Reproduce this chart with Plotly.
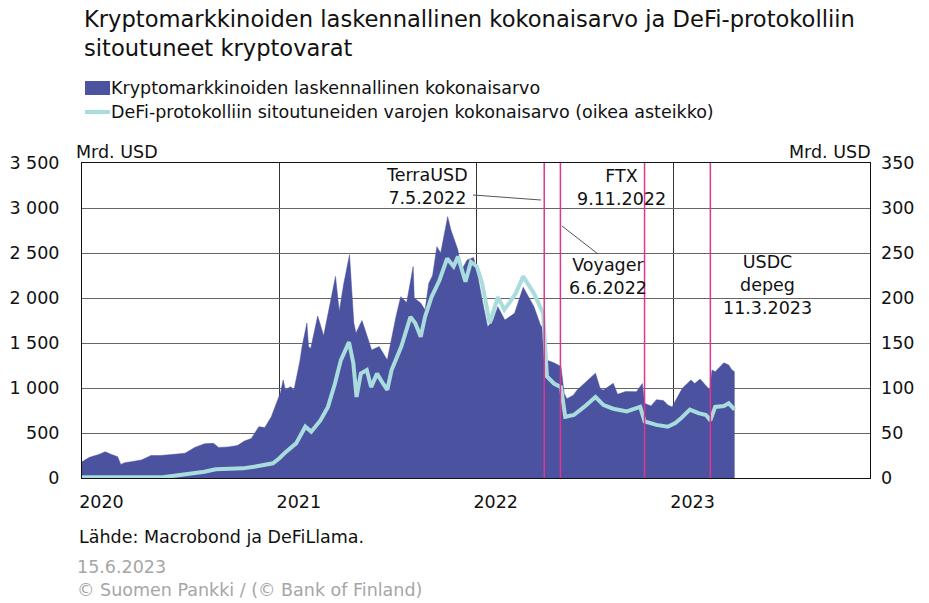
import plotly.graph_objects as go

# ---------------- data ----------------
mc_dates = ["2020-01-01","2020-01-15","2020-02-01","2020-02-13","2020-02-25","2020-03-07","2020-03-13","2020-03-20",
            "2020-04-01","2020-04-20","2020-05-08","2020-05-25","2020-06-15","2020-07-10","2020-07-28","2020-08-15",
            "2020-09-01","2020-09-10","2020-09-28","2020-10-15","2020-10-28","2020-11-10","2020-11-24","2020-12-05",
            "2020-12-17","2020-12-27","2021-01-03","2021-01-08","2021-01-12","2021-01-22","2021-01-28","2021-02-08",
            "2021-02-12","2021-02-21","2021-02-24","2021-02-28","2021-03-13","2021-03-24","2021-04-05","2021-04-15",
            "2021-04-22","2021-04-30","2021-05-11","2021-05-16","2021-05-19","2021-05-23","2021-06-03","2021-06-09",
            "2021-06-21","2021-07-05","2021-07-20","2021-08-05","2021-08-14","2021-08-25","2021-09-06","2021-09-08",
            "2021-09-20","2021-09-28","2021-10-05","2021-10-12","2021-10-20","2021-10-27","2021-11-09","2021-11-15",
            "2021-11-28","2021-12-04","2021-12-15","2021-12-27","2022-01-02","2022-01-12","2022-01-22","2022-02-01",
            "2022-02-10","2022-02-23","2022-03-05","2022-03-13","2022-03-29","2022-04-10","2022-04-18","2022-04-30",
            "2022-05-06","2022-05-11","2022-05-25","2022-06-07","2022-06-13","2022-06-18","2022-06-30","2022-07-07",
            "2022-07-20","2022-08-10","2022-08-19","2022-08-25","2022-09-12","2022-09-20","2022-10-05","2022-10-25",
            "2022-11-05","2022-11-09","2022-11-21","2022-12-01","2022-12-14","2022-12-22","2022-12-30","2023-01-10",
            "2023-01-18","2023-02-03","2023-02-10","2023-02-20","2023-03-05","2023-03-10","2023-03-14","2023-03-20",
            "2023-04-05","2023-04-14","2023-04-20","2023-04-25"]
mc_vals = [180,230,260,292,260,237,150,170,
           180,200,250,250,260,275,340,380,
           385,340,345,360,410,440,570,560,
           681,833,950,1089,980,1015,978,1300,
           1459,1722,1460,1440,1800,1580,1930,2240,
           1850,2150,2480,2000,1722,1610,1750,1644,
           1422,1460,1310,1790,2015,1950,2350,2000,
           1944,1867,2163,2250,2570,2500,2904,2756,
           2533,2300,2422,2450,2300,1978,1681,1750,
           1904,1756,1800,1830,2120,2000,1904,1700,
           1650,1311,1280,1240,940,880,920,978,
           1052,1165,990,978,1052,930,960,959,
           1050,830,800,870,860,811,790,904,
           996,1090,1050,1100,1015,978,1200,1181,
           1280,1256,1200,1181]

defi_dates = ["2020-01-01","2020-03-01","2020-04-15","2020-06-01","2020-06-20","2020-07-10","2020-07-28","2020-08-15",
              "2020-09-05","2020-10-01","2020-10-25","2020-11-15","2020-12-05","2020-12-20","2021-01-01","2021-01-13",
              "2021-02-01","2021-02-18","2021-03-01","2021-03-18","2021-04-01","2021-04-14","2021-04-25","2021-05-10",
              "2021-05-18","2021-05-24","2021-06-01","2021-06-12","2021-06-20","2021-07-01","2021-07-12","2021-07-20",
              "2021-07-28","2021-08-15","2021-09-01","2021-09-10","2021-09-20","2021-09-28","2021-10-10","2021-10-25",
              "2021-11-08","2021-11-20","2021-11-28","2021-12-12","2021-12-22","2022-01-02","2022-01-12","2022-01-26",
              "2022-02-10","2022-02-22","2022-03-05","2022-03-15","2022-03-29","2022-04-18","2022-05-05","2022-05-12",
              "2022-05-25","2022-06-07","2022-06-15","2022-07-01","2022-07-20","2022-08-10","2022-08-25","2022-09-12",
              "2022-10-07","2022-11-01","2022-11-09","2022-12-01","2022-12-22","2023-01-05","2023-01-15","2023-02-01",
              "2023-02-17","2023-03-03","2023-03-11","2023-03-20","2023-04-05","2023-04-14","2023-04-25"]
defi_vals = [0.7,1.0,0.8,1.2,2.5,4,6,7,
             9.6,10,10.7,12.5,14.4,16.3,21.9,29,
             38.5,57,51.5,64,79,105,131,151,
             128,90,116,120,101,116,105,98,
             120,146,179,172,157,179,201,220,
             244,235,246,218,240,235,216,172,
             201,187,196,205,224,205,183,113,
             105,101,68,70,79,90,81,77,
             74,79,63,59,57,61,66,76,
             72,70,64,79,80,83,76]

event_dates = ["2022-05-07", "2022-06-06", "2022-11-09", "2023-03-11"]
year_ticks = ["2020-01-01", "2021-01-01", "2022-01-01", "2023-01-01", "2024-01-01"]
year_labels = ["2020", "2021", "2022", "2023"]
label_pos = ["2020-02-06", "2021-02-06", "2022-02-06", "2023-02-06"]
left_ticks = [0, 500, 1000, 1500, 2000, 2500, 3000, 3500]
left_labels = ["0", "500", "1 000", "1 500", "2 000", "2 500", "3 000", "3 500"]
right_ticks = [0, 50, 100, 150, 200, 250, 300, 350]
right_labels = ["0", "50", "100", "150", "200", "250", "300", "350"]

AREA = "#4b53a0"
LINE = "#a9dcdc"
MAG = "#e0358f"
FONT = "DejaVu Sans"

# plot area in pixels
L, R, T, B = 82, 870, 163, 478
def px(x):
    return (x - L) / (R - L)
def py(y):
    return (B - y) / (B - T)

fig = go.Figure()
fig.add_trace(go.Scatter(x=mc_dates, y=mc_vals, mode="lines", fill="tozeroy",
                         line=dict(width=0.5, color=AREA), fillcolor=AREA, showlegend=False,
                         hoverinfo="skip"))
fig.add_trace(go.Scatter(x=defi_dates, y=defi_vals, mode="lines", yaxis="y2",
                         line=dict(width=4, color=LINE), showlegend=False, hoverinfo="skip"))

shapes = []
for d in event_dates:
    shapes.append(dict(type="line", xref="x", yref="paper", x0=d, x1=d, y0=0, y1=1,
                       line=dict(color=MAG, width=1.5), layer="above"))
# leader lines
shapes.append(dict(type="line", xref="paper", yref="paper", x0=px(473), y0=py(195), x1=px(541), y1=py(200),
                   line=dict(color="#555", width=1)))
shapes.append(dict(type="line", xref="paper", yref="paper", x0=px(562), y0=py(226), x1=px(598), y1=py(254),
                   line=dict(color="#555", width=1)))
# legend symbols
shapes.append(dict(type="rect", xref="paper", yref="paper", x0=px(85), x1=px(110), y0=py(95), y1=py(81),
                   fillcolor=AREA, line=dict(width=0)))
shapes.append(dict(type="line", xref="paper", yref="paper", x0=px(85), x1=px(110), y0=py(112), y1=py(112),
                   line=dict(color=LINE, width=4)))

ann = []
def text(x, y, s, size=17.5, color="#111", xanchor="left", yanchor="middle", align="left"):
    ann.append(dict(xref="paper", yref="paper", x=px(x), y=py(y), text=s, showarrow=False,
                    xanchor=xanchor, yanchor=yanchor, align=align,
                    font=dict(family=FONT, size=size, color=color)))

text(82, 4, "Kryptomarkkinoiden laskennallinen kokonaisarvo ja DeFi-protokolliin<br>sitoutuneet kryptovarat",
     size=22.6, yanchor="top")
text(109, 88, "Kryptomarkkinoiden laskennallinen kokonaisarvo")
text(109, 112, "DeFi-protokolliin sitoutuneiden varojen kokonaisarvo (oikea asteikko)")
text(74, 152, "Mrd. USD")
text(873, 152, "Mrd. USD", xanchor="right")
text(427, 186, "TerraUSD<br>7.5.2022", xanchor="center", align="center")
text(621, 187, "FTX<br>9.11.2022", xanchor="center", align="center")
text(608, 276, "Voyager<br>6.6.2022", xanchor="center", align="center")
text(767, 285, "USDC<br>depeg<br>11.3.2023", xanchor="center", align="center")
text(77, 537, "Lähde: Macrobond ja DeFiLlama.")
text(75, 567, "15.6.2023", color="#a6a6a6")
text(75, 590, "© Suomen Pankki / (© Bank of Finland)", color="#a6a6a6")

fig.update_layout(
    width=929, height=603,
    margin=dict(l=L, r=929 - R, t=T, b=603 - B, pad=0),
    paper_bgcolor="white", plot_bgcolor="white",
    font=dict(family=FONT, size=18, color="#111"),
    showlegend=False, hovermode=False,
    shapes=shapes, annotations=ann,
    xaxis=dict(type="date", range=["2020-01-01", "2024-01-01"], automargin=False,
               tickvals=label_pos, ticktext=year_labels, ticks="", showgrid=False,
               minor=dict(tickvals=year_ticks, showgrid=True, gridcolor="#333", gridwidth=1, ticks=""),
               showline=True, linecolor="#111", linewidth=1, mirror=True,
               tickfont=dict(size=17.5, family=FONT, color="#111"), ticklabelstandoff=8, zeroline=False),
    yaxis=dict(range=[0, 3500], tickvals=left_ticks, ticktext=left_labels, showgrid=True, automargin=False,
               gridcolor="#666", gridwidth=1, ticks="", showline=True, linecolor="#111", linewidth=1,
               mirror=True, zeroline=False, ticklabelstandoff=18,
               tickfont=dict(size=17.5, family=FONT, color="#111")),
    yaxis2=dict(range=[0, 350], tickvals=right_ticks, ticktext=right_labels, overlaying="y", side="right",
                showgrid=False, ticks="", zeroline=False, ticklabelstandoff=10, automargin=False,
                tickfont=dict(size=17.5, family=FONT, color="#111")),
)

fig.write_html("out.html", config={"displayModeBar": False, "staticPlot": True},
               post_script="document.body.style.margin='0';document.body.style.overflow='hidden';")
